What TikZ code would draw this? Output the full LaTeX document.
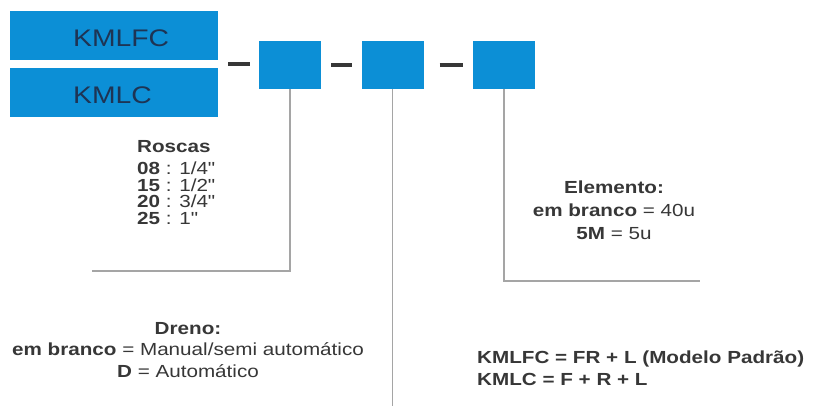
\documentclass[tikz,border=0pt]{standalone}
\usepackage{fontspec}
\setmainfont[FakeStretch=1.18,Ligatures=TeXOff]{Liberation Sans}
\usetikzlibrary{positioning,calc}

\definecolor{kblue}{RGB}{12,143,214}
\definecolor{knavy}{RGB}{30,52,84}
\definecolor{ktext}{RGB}{55,55,55}
\definecolor{kgrey}{RGB}{165,165,165}

\begin{document}
\begin{tikzpicture}[x=1pt,y=-1pt]
  \tikzstyle{bigbox}=[fill=kblue,minimum width=208pt,minimum height=49pt,inner sep=0]
  \tikzstyle{smallbox}=[fill=kblue,minimum width=62pt,minimum height=48pt,inner sep=0]
  \tikzstyle{boxtext}=[text=knavy,font=\fontsize{24}{24}\selectfont,inner sep=0]
  \tikzstyle{note}=[text=ktext,inner sep=0,anchor=north]
  \tikzstyle{sepline}=[draw=ktext,line width=3.5pt]
  \tikzstyle{leader}=[draw=kgrey,line width=1.4pt]

  \useasboundingbox[fill=white] (0,0) rectangle (823,406);

  % Model boxes
  \node[bigbox] (kmlfc) at (114,35.5) {};
  \node[bigbox] (kmlc) at (114,92.5) {};
  \node[boxtext,anchor=base west] at (73,47) {KMLFC};
  \node[boxtext,anchor=base west] at (73,104) {KMLC};

  % Code boxes
  \node[smallbox] (rosca) at (290,65) {};
  \node[smallbox] (dreno) at (392.5,65) {};
  \node[smallbox] (elem) at (504,65) {};

  % Separators
  \coordinate (stack) at ($(kmlfc.south east)!.5!(kmlc.north east)$);
  \draw[sepline] ([xshift=10pt]stack) -- ([xshift=-9pt]stack -| rosca.west);
  \draw[sepline] ([xshift=10pt]rosca.east) -- ([xshift=-9pt]dreno.west);
  \draw[sepline] ([xshift=16pt]dreno.east) -- ([xshift=-10pt]elem.west);

  % Leader lines
  \coordinate (roscaend) at (92,271);
  \coordinate (drenoend) at (392.5,406);
  \coordinate (elemend) at (700,281);
  \draw[leader] (rosca.south) |- (roscaend);
  \draw[leader] (dreno.south) -- (drenoend);
  \draw[leader] (elem.south) |- (elemend);

  % Texts
  \node[note,anchor=north west,align=left,font=\fontsize{17.5}{16.5}\selectfont] (roscas) at (137,140)
    {\textbf{Roscas}\\[6pt]\textbf{08} : 1/4"\\\textbf{15} : 1/2"\\\textbf{20} : 3/4"\\\textbf{25} : 1"};
  \node[note,align=center,font=\fontsize{17.5}{21.5}\selectfont] (drenotxt) at (188,322)
    {\textbf{Dreno:}\\\textbf{em branco} = Manual/semi automático\\\textbf{D} = Automático};
  \node[note,align=center,font=\fontsize{17.5}{23}\selectfont] (elemtxt) at (614,181)
    {\textbf{Elemento:}\\\textbf{em branco} = 40u\\\textbf{5M} = 5u};
  \node[note,anchor=north west,align=left,font=\fontsize{17.5}{22}\selectfont\bfseries] (modelo) at (477,351)
    {KMLFC = FR + L (Modelo Padrão)\\KMLC = F + R + L};
\end{tikzpicture}
\end{document}
